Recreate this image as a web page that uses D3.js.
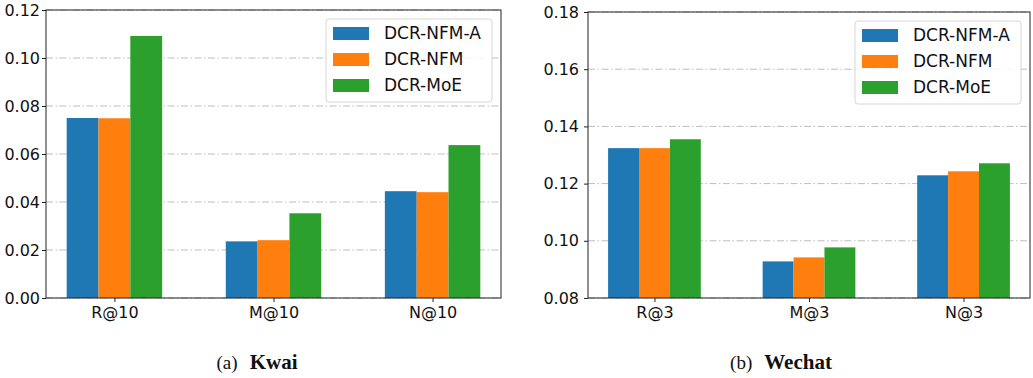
<!DOCTYPE html>
<html>
<head>
<meta charset="utf-8">
<script src="https://cdn.jsdelivr.net/npm/d3@7"></script>
<style>
  body { margin: 0; background: #fff; }
  svg { display: block; }
  .tick text { font-family: "DejaVu Sans", sans-serif; font-size: 16px; fill: #111; }
</style>
</head>
<body>
<svg id="chart" width="1033" height="378"></svg>
<script>
// data
var models = ["DCR-NFM-A", "DCR-NFM", "DCR-MoE"];
var colors = ["#1f77b4", "#ff7f0e", "#2ca02c"];

var kwaiMetrics = ["R@10", "M@10", "N@10"];
var kwaiNfmA = [0.0750, 0.0236, 0.0445];
var kwaiNfm  = [0.0749, 0.0241, 0.0441];
var kwaiMoe  = [0.1092, 0.0353, 0.0637];
var kwaiTicks = [0.00, 0.02, 0.04, 0.06, 0.08, 0.10, 0.12];

var wechatMetrics = ["R@3", "M@3", "N@3"];
var wechatNfmA = [0.1324, 0.0928, 0.1229];
var wechatNfm  = [0.1324, 0.0942, 0.1243];
var wechatMoe  = [0.1355, 0.0977, 0.1271];
var wechatTicks = [0.08, 0.10, 0.12, 0.14, 0.16, 0.18];

var svg = d3.select("#chart");

function drawPanel(p) {
  var series = [p.a, p.b, p.c];
  var g = svg.append("g");

  // categories at 0,1,2 ; bar width 0.2 ; matplotlib margins
  var x = d3.scaleLinear().domain([-0.43, 2.43]).range([p.left, p.right]);
  var y = d3.scaleLinear().domain(p.ydom).range([p.bottom, p.top]);

  // grid
  g.selectAll(".grid")
    .data(p.ticks)
    .enter().append("line")
      .attr("x1", p.left).attr("x2", p.right)
      .attr("y1", function(d) { return y(d); })
      .attr("y2", function(d) { return y(d); })
      .attr("stroke", "#bdbdbd")
      .attr("stroke-width", 1)
      .attr("stroke-dasharray", "7,2.5,1.5,2.5");

  // bars
  series.forEach(function(vals, s) {
    g.selectAll(".bar" + s)
      .data(vals)
      .enter().append("rect")
        .attr("x", function(d, i) { return x(i + (s - 1) * 0.2 - 0.1); })
        .attr("width", x(0.2) - x(0))
        .attr("y", function(d) { return y(d); })
        .attr("height", function(d) { return p.bottom - y(d); })
        .attr("fill", colors[s]);
  });

  // frame
  g.append("rect")
    .attr("x", p.left).attr("y", p.top)
    .attr("width", p.right - p.left).attr("height", p.bottom - p.top)
    .attr("fill", "none").attr("stroke", "#222").attr("stroke-width", 1);

  // axes
  var xa = g.append("g")
    .attr("transform", "translate(0," + p.bottom + ")")
    .call(d3.axisBottom(x).tickValues([0, 1, 2])
      .tickFormat(function(d) { return p.cats[d]; })
      .tickSize(4).tickPadding(5));
  var ya = g.append("g")
    .attr("transform", "translate(" + p.left + ",0)")
    .call(d3.axisLeft(y).tickValues(p.ticks).tickFormat(d3.format(".2f"))
      .tickSize(4).tickPadding(p.ypad));
  [xa, ya].forEach(function(a) {
    a.select(".domain").remove();
    a.selectAll("line").attr("stroke", "#222");
  });

  // legend
  var lw = 166, lh = 83;
  var lx = p.right - 9 - lw, ly = p.top + 9;
  var lg = g.append("g").attr("transform", "translate(" + lx + "," + ly + ")");
  lg.append("rect")
    .attr("width", lw).attr("height", lh)
    .attr("rx", 3)
    .attr("fill", "#fff").attr("fill-opacity", 0.85)
    .attr("stroke", "#d6d6d6");
  models.forEach(function(m, i) {
    lg.append("rect")
      .attr("x", 7).attr("y", 8 + i * 26)
      .attr("width", 36).attr("height", 13)
      .attr("fill", colors[i]);
    lg.append("text")
      .attr("x", 58).attr("y", 8 + i * 26 + 12)
      .style("font-family", "DejaVu Sans, sans-serif")
      .style("font-size", "17px")
      .attr("fill", "#111")
      .text(m);
  });

  // caption
  var cap = svg.append("text")
    .attr("x", p.capX).attr("y", 369)
    .attr("text-anchor", "middle")
    .style("font-family", "Liberation Serif, serif")
    .attr("fill", "#111");
  cap.append("tspan").style("font-size", "19px").text(p.capLabel);
  cap.append("tspan").attr("dx", 12)
    .style("font-size", "21px").attr("font-weight", "bold").text(p.capName);
}

drawPanel({
  left: 46, right: 501, top: 10, bottom: 298, ypad: 2,
  ydom: [0, 0.12], ticks: kwaiTicks, cats: kwaiMetrics,
  a: kwaiNfmA, b: kwaiNfm, c: kwaiMoe,
  capX: 257, capLabel: "(a)", capName: "Kwai"
});

drawPanel({
  left: 588, right: 1030, top: 12, bottom: 298, ypad: 5,
  ydom: [0.08, 0.18], ticks: wechatTicks, cats: wechatMetrics,
  a: wechatNfmA, b: wechatNfm, c: wechatMoe,
  capX: 781, capLabel: "(b)", capName: "Wechat"
});
</script>
</body>
</html>
